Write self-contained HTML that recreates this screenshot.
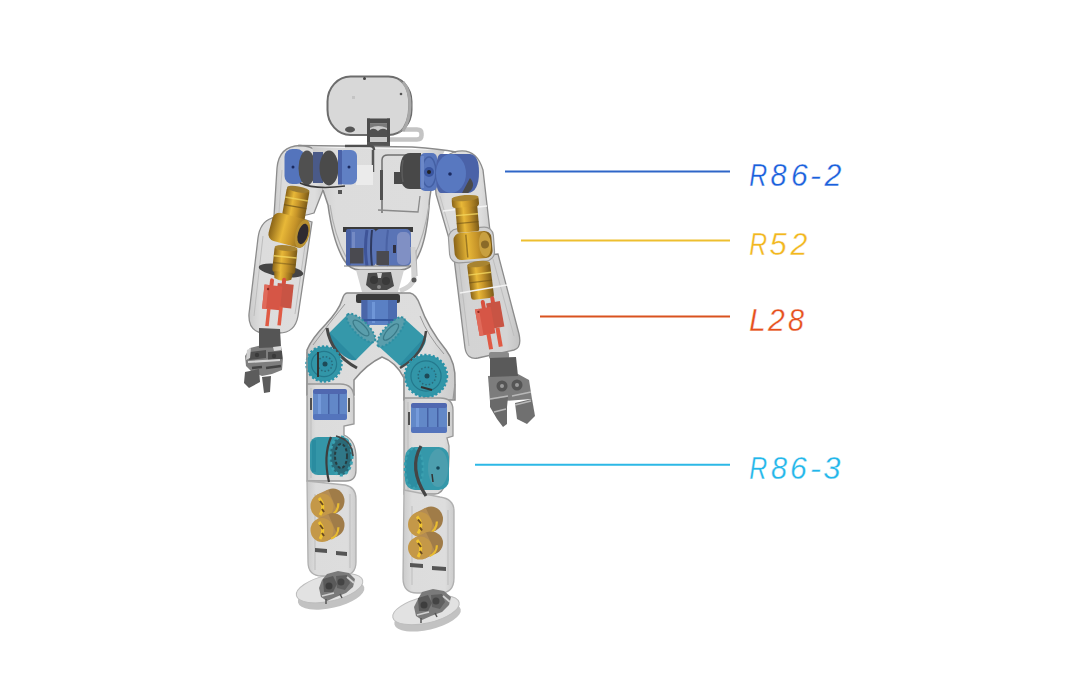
<!DOCTYPE html>
<html><head><meta charset="utf-8">
<style>
html,body{margin:0;padding:0;background:#fff;width:1080px;height:675px;overflow:hidden}
svg{display:block}
.lbl{font-family:"Liberation Sans",sans-serif;font-style:italic;font-size:31px}
</style></head><body>
<svg width="1080" height="675" viewBox="0 0 1080 675">
<defs>
<linearGradient id="gold" x1="0" y1="0" x2="1" y2="0">
<stop offset="0" stop-color="#8a6418"/><stop offset="0.35" stop-color="#e8b838"/><stop offset="0.6" stop-color="#c8962a"/><stop offset="1" stop-color="#7a5a18"/>
</linearGradient>
<linearGradient id="blue" x1="0" y1="0" x2="1" y2="0">
<stop offset="0" stop-color="#2a4c9a"/><stop offset="0.4" stop-color="#5080d0"/><stop offset="1" stop-color="#2c54a8"/>
</linearGradient>
<linearGradient id="teal" x1="0" y1="0" x2="1" y2="0">
<stop offset="0" stop-color="#1a7890"/><stop offset="0.45" stop-color="#3ab0c8"/><stop offset="1" stop-color="#1c7e98"/>
</linearGradient>
<linearGradient id="shell" x1="0" y1="0" x2="1" y2="0">
<stop offset="0" stop-color="#cbcbcb"/><stop offset="0.18" stop-color="#dcdcdc"/><stop offset="0.82" stop-color="#dddddd"/><stop offset="1" stop-color="#cccccc"/>
</linearGradient>
<linearGradient id="shell2" x1="0" y1="0" x2="1" y2="0">
<stop offset="0" stop-color="#c4c4c4"/><stop offset="0.2" stop-color="#d3d3d3"/><stop offset="0.8" stop-color="#d4d4d4"/><stop offset="1" stop-color="#c3c3c3"/>
</linearGradient>
</defs>
<g id="robot">
<!-- ===== ARMS SHELLS ===== -->
<g stroke="#8c8c8c" stroke-width="1.3" fill="url(#shell)">
  <!-- left forearm -->
  <path d="M272,218 Q290,214 312,222 L298,316 Q295,333 279,333 L264,333 Q248,332 249,314 L258,238 Q260,222 272,218 Z"/>
  <!-- left upper arm -->
  <path d="M277,168 Q279,146 300,145.5 Q321,146 324,166 L323,190 L314,213 Q300,218 274,216 Z"/>
  <!-- right forearm -->
  <path d="M454,258 L498,254 L519,334 Q522,348 514,350 L478,358 Q467,360 465,348 Z" fill="url(#shell2)"/>
  <!-- right upper arm -->
  <path d="M436,194 Q432,160 454,152 Q476,146 483,170 L491,240 L450,242 Z"/>
</g>
<!-- arm seams -->
<path d="M263,236 L254,316 M307,232 L295,314" fill="none" stroke="#bdbdbd" stroke-width="1"/>
<path d="M459,264 L469,346 M493,259 L514,336" fill="none" stroke="#bdbdbd" stroke-width="1"/>
<path d="M282,170 L279,212 M440,196 L452,238" fill="none" stroke="#c2c2c2" stroke-width="1"/>
<path d="M443,211 L487,206" stroke="#f4f4f4" stroke-width="1.6"/>
<rect x="449" y="228" width="45" height="34" rx="9" fill="#d2d2d2" stroke="#9a9a9a" stroke-width="1.2" transform="rotate(-4 471 245)"/>

<!-- left arm internals -->
<g transform="rotate(10 295 205)">
<rect x="284" y="188" width="23" height="34" rx="3" fill="url(#gold)"/>
<ellipse cx="295.5" cy="189" rx="11.5" ry="3" fill="#9a7a30"/>
<rect x="284" y="198" width="23" height="1.6" fill="#f4d860" opacity="0.7"/>
<rect x="284" y="206" width="23" height="1.2" fill="#6a5018" opacity="0.7"/>
</g>
<g transform="rotate(15 290 230)">
<rect x="270" y="216" width="38" height="29" rx="7" fill="url(#gold)"/>
<ellipse cx="303" cy="230.5" rx="7" ry="14.5" fill="#b89030"/>
<ellipse cx="303.5" cy="230.5" rx="5" ry="10.5" fill="#2e2a30"/>
</g>
<ellipse cx="281" cy="270.5" rx="22.5" ry="6" fill="#454545" transform="rotate(9 281 270.5)"/>
<g transform="rotate(6 284 263)">
<rect x="273" y="247" width="23" height="26" rx="3" fill="url(#gold)"/>
<ellipse cx="284.5" cy="248" rx="11.5" ry="3" fill="#a88430"/>
<rect x="273" y="256" width="23" height="1.5" fill="#f4d860" opacity="0.8"/>
<rect x="273" y="263" width="23" height="1.3" fill="#6a5018" opacity="0.5"/>
<path d="M275,272 L294,272 L293,279 Q284,283 276,279 Z" fill="url(#gold)"/>
</g>
<g transform="rotate(6 277 300)">
<rect x="268" y="279" width="4" height="9" rx="2" fill="#d8503e"/>
<rect x="280" y="277" width="4" height="9" rx="2" fill="#d8503e"/>
<rect x="276" y="283" width="16" height="24" fill="#c85444"/>
<rect x="263" y="286" width="18" height="24" fill="#d65646"/>
<rect x="263" y="286" width="4" height="24" fill="#e06a5a"/>
<rect x="268" y="309" width="3.5" height="18" fill="#e05a44"/>
<rect x="280" y="306" width="3.5" height="19" fill="#e05a44"/>
<circle cx="267" cy="290" r="1.2" fill="#8a2a20"/>
</g>
<!-- left hand -->
<path d="M250,348 L262,345 L281,346 L283,358 L282,370 L272,374 L262,376 L252,372 L246,366 L245,356 Z" fill="#7e7e7e"/>
<path d="M259,328 L280,329 L281,347 L259,348 Z" fill="#555555"/>
<path d="M250,352 L266,350 L266,358 L249,360 Z" fill="#505050"/>
<path d="M268,352 L282,351 L282,359 L268,360 Z" fill="#4c4c4c"/>
<path d="M248,362 L280,360" stroke="#d6d6d6" stroke-width="2"/>
<path d="M252,368 L262,367 M266,368 L281,366" stroke="#444" stroke-width="2.5"/>
<path d="M247,350 L251,348 L250,358 L246,360 Z" fill="#cfcfcf"/>
<path d="M273,347 L281,346 L281,350 L274,351 Z" fill="#d8d8d8"/>
<circle cx="257" cy="355" r="2.2" fill="#3a3a3a"/>
<circle cx="274" cy="356" r="2.2" fill="#3a3a3a"/>
<path d="M245,372 L259,369 L260,382 L249,388 L244,383 Z" fill="#5c5c5c"/>
<path d="M262,377 L271,376 L270,392 L264,393 Z" fill="#5c5c5c"/>
<!-- right arm internals -->
<g transform="rotate(-5 467 215)">
<rect x="456" y="204" width="22" height="28" rx="2" fill="url(#gold)"/>
<rect x="453" y="197" width="27" height="10" rx="3" fill="url(#gold)"/>
<ellipse cx="466.5" cy="198" rx="13.5" ry="3" fill="#a88430"/>
<rect x="456" y="214" width="22" height="1.4" fill="#f4d860" opacity="0.8"/>
<rect x="456" y="222" width="22" height="1.2" fill="#6a5018" opacity="0.6"/>
</g>
<g transform="rotate(-5 473 245)">
<rect x="454" y="232" width="38" height="27" rx="7" fill="url(#gold)"/>
<ellipse cx="485" cy="245.5" rx="6" ry="12.5" fill="#c8a040"/>
<circle cx="485" cy="245.5" r="4" fill="#8a6a28"/>
<rect x="466" y="234" width="1.5" height="23" fill="#6a5018" opacity="0.6"/>
</g>
<g transform="rotate(-7 480 280)">
<rect x="469" y="263" width="23" height="36" rx="3" fill="url(#gold)"/>
<ellipse cx="480.5" cy="264" rx="11.5" ry="3" fill="#a88430"/>
<rect x="469" y="273" width="23" height="1.4" fill="#f4d860" opacity="0.8"/>
<rect x="469" y="281" width="23" height="1.2" fill="#6a5018" opacity="0.6"/>
</g>
<path d="M460,293 L507,285" stroke="#f2f2f2" stroke-width="1.5"/>
<g transform="rotate(-10 490 320)">
<rect x="484" y="299" width="4" height="10" rx="2" fill="#d8503e"/>
<rect x="494" y="297" width="4" height="10" rx="2" fill="#d8503e"/>
<rect x="489" y="303" width="14" height="26" fill="#c85444"/>
<rect x="477" y="307" width="16" height="27" fill="#d65646"/>
<rect x="477" y="307" width="4" height="27" fill="#e06a5a"/>
<rect x="484" y="333" width="4" height="16" fill="#e05a44"/>
<rect x="494" y="329" width="4" height="19" fill="#e05a44"/>
<circle cx="480" cy="310" r="1.2" fill="#8a2a20"/>
</g>
<!-- right hand -->
<rect x="489" y="352" width="20" height="7" rx="2" fill="#8a8a8a"/>
<path d="M488,376 L518,374 L529,380 L532,399 L490,402 Z" fill="#7c7c7c"/>
<path d="M490,358 L516,357 L518,376 L490,377 Z" fill="#5a5a5a"/>
<circle cx="502" cy="386" r="5.5" fill="#555"/>
<circle cx="517" cy="385" r="5.5" fill="#555"/>
<circle cx="502" cy="386" r="2" fill="#9a9a9a"/>
<circle cx="517" cy="385" r="2" fill="#9a9a9a"/>
<path d="M490,400 L508,397 L507,407 L507,424 L503,427 L497,419 L490,407 Z" fill="#6a6a6a"/>
<path d="M515,403 L532,399 L535,416 L527,424 L517,419 Z" fill="#707070"/>
<path d="M490,399 L508,396 M512,396 L531,392 M494,412 L506,409 M515,405 L531,401" stroke="#b8b8b8" stroke-width="1.5"/>
<!-- ===== HEAD ===== -->
<path d="M390,129.5 L417,129.5 Q421.5,129.5 421.5,133.5 L421.5,135.5 Q421.5,139.5 417,139.5 L390,139.5" fill="none" stroke="#c4c4c4" stroke-width="4.5"/>
<rect x="327.5" y="76.5" width="84" height="58.5" rx="23" ry="25" fill="#d8d8d8" stroke="#6c6c6c" stroke-width="2"/>
<path d="M399,80 Q409,86 409,105 Q409,124 399,133" fill="none" stroke="#8a8a8a" stroke-width="1.4"/>
<path d="M403,82 Q410,90 410,105 Q410,120 403,131" fill="none" stroke="#a8a8a8" stroke-width="3"/>
<circle cx="364.5" cy="78.5" r="1.5" fill="#444"/>
<circle cx="401" cy="94" r="1.3" fill="#555"/>
<rect x="352" y="96" width="3" height="3" fill="#c4c4c4"/>
<rect x="367" y="118.5" width="23" height="27.5" fill="#c8c8c8"/>
<rect x="367" y="118.5" width="23" height="5" fill="#4c4c4c"/>
<rect x="367" y="118.5" width="3" height="27.5" fill="#4c4c4c"/>
<rect x="387" y="118.5" width="3" height="27.5" fill="#4c4c4c"/>
<path d="M370,123.5 L387,123.5 L387,128 Q378,124 370,128 Z" fill="#7a7a7a"/>
<path d="M370,130 Q374,127 378,131 Q382,127 387,130 L387,137 L370,137 Z" fill="#505050"/>
<rect x="367" y="142" width="23" height="4" fill="#555"/>
<ellipse cx="350" cy="129.5" rx="5" ry="3" fill="#555"/>
<!-- ===== TORSO ===== -->
<path d="M312,147 L445,150 L433,176 L429.5,200 Q427,242 416,260 Q410,270 400,270 L360,270 Q350,270 344,260 Q333,242 328,205 L323,190 Z" fill="url(#shell)"/>
<path d="M433,176 L429.5,200 Q427,242 416,260 Q410,270 400,270 L360,270 Q350,270 344,260 Q333,242 328,205 L323,190" fill="none" stroke="#8a8a8a" stroke-width="1.5"/>
<path d="M298,145.6 Q320,146 340,146 L412,147 Q440,149 456,152" fill="none" stroke="#8a8a8a" stroke-width="1.5"/>
<path d="M330,205 Q336,245 352,266" fill="none" stroke="#b0b0b0" stroke-width="1.2"/>
<path d="M429,205 Q423,245 408,266" fill="none" stroke="#b0b0b0" stroke-width="1.2"/>
<!-- chest frame -->
<path d="M373,150 L373,172" stroke="#555" stroke-width="2.5"/>
<path d="M382,213 L382,160 Q382,155 388,155 L420,155" fill="none" stroke="#707070" stroke-width="1.5"/>
<path d="M378,210 L418,212 L420,196" fill="none" stroke="#8a8a8a" stroke-width="1.3"/>
<path d="M345,146 L370,146 Q374,146 374,150" fill="none" stroke="#505050" stroke-width="2.5"/>
<rect x="356" y="165" width="17" height="20" fill="#ebebeb"/>
<rect x="338" y="190" width="4" height="4" fill="#555"/>
<rect x="380" y="170" width="3" height="30" fill="#505050"/>
<!-- shoulder motors left -->
<rect x="284.5" y="149" width="20" height="35" rx="8" fill="#5474bc"/>
<circle cx="293" cy="167" r="1.5" fill="#1a2a60"/>
<ellipse cx="307" cy="168" rx="8.5" ry="17.5" fill="#505050"/>
<rect x="313" y="152" width="10" height="31" fill="#4a5a88"/>
<ellipse cx="329" cy="168" rx="9.5" ry="17.5" fill="#4a4a4a"/>
<rect x="338" y="150" width="19" height="34.5" rx="6" fill="#6080c4"/>
<rect x="338" y="150" width="4" height="34.5" fill="#4a62a8"/>
<circle cx="349" cy="167" r="1.5" fill="#1a2a60"/>
<path d="M300,183 Q315,190 345,186" fill="none" stroke="#3a3a3a" stroke-width="1.5"/>
<!-- shoulder motors right -->
<rect x="394" y="172" width="8" height="12" fill="#4a4a4a"/>
<path d="M410,153 L421,153 L421,189 L410,189 Q400,189 400,171 Q400,153 410,153 Z" fill="#484848"/>
<path d="M403,160 Q401,171 403,182" fill="none" stroke="#5c5c5c" stroke-width="1.5"/>
<rect x="420" y="153" width="17" height="38" rx="5" fill="#5876bc"/>
<ellipse cx="429" cy="172" rx="7" ry="15" fill="none" stroke="#4460a4" stroke-width="1.5"/>
<rect x="421" y="156" width="3" height="32" fill="#6c88c8"/>
<circle cx="429" cy="172" r="5" fill="#3a56a0"/>
<circle cx="429" cy="172" r="2" fill="#222"/>
<path d="M441,154 L470,154 Q479,155 479,172 Q479,192 468,193 L441,193 Q436,193 436,174 Q436,154 441,154 Z" fill="#4a62a8"/>
<ellipse cx="451" cy="173.5" rx="15" ry="19.5" fill="#5878c0"/>
<circle cx="450" cy="174" r="1.8" fill="#1a2a60"/>
<path d="M470,178 Q477,186 468,193 L462,193 Z" fill="#4a4a4a"/>
<!-- waist motors -->
<rect x="343" y="227" width="70" height="5" fill="#3a3a3a"/>
<rect x="346" y="229" width="30" height="37" rx="4" fill="#5a74b6"/>
<rect x="346" y="229" width="5" height="37" rx="2" fill="#4a62a4"/>
<rect x="352" y="232" width="3" height="16" fill="#7a90c8" opacity="0.8"/>
<path d="M367,230 Q364,248 367,266" fill="none" stroke="#3e5498" stroke-width="3"/>
<path d="M372,230 Q370,248 372,266" fill="none" stroke="#2e3a60" stroke-width="2"/>
<rect x="375" y="229" width="36" height="37" rx="5" fill="#5a74b6"/>
<path d="M388,230 Q385,248 388,266" fill="none" stroke="#4a62a4" stroke-width="2"/>
<rect x="397" y="232" width="13" height="33" rx="5" fill="#8090c4"/>
<rect x="393" y="245" width="3" height="8" fill="#303040"/>
<rect x="350" y="248" width="13.5" height="15.5" fill="#4a4a50"/>
<rect x="376.5" y="251" width="12.5" height="14" fill="#4a4a50"/>
<path d="M344,266 L411,266" stroke="#7a7a7a" stroke-width="1"/>
<!-- waist joint -->
<path d="M356,270 L404,270 L398,292 L362,292 Z" fill="#d4d4d4"/>
<path d="M368,273 L391,272 L394,286 L387,290 L372,290 L366,285 Z" fill="#4a4a4a"/>
<circle cx="374" cy="280" r="4" fill="#383838"/>
<circle cx="386" cy="281" r="4" fill="#3a3a3a"/>
<path d="M377,273 L382,273 L381,278 L378,278 Z" fill="#d0d0d0"/>
<circle cx="379" cy="287" r="2" fill="#888"/>
<path d="M413,247 L414,278 Q413,286 400,291" fill="none" stroke="#d2d2d2" stroke-width="5"/>
<path d="M416,250 L417,276" stroke="#b0b0b0" stroke-width="1"/>
<circle cx="414" cy="280" r="2.5" fill="#5a5a5a"/>

<!-- ===== PELVIS ===== -->
<path d="M347,293 L410,293 Q416,294 420,305 Q428,328 446,350 Q456,363 455,382 L455,400 L404,400 L404,378 Q396,362 382,357 Q367,364 354,380 L354,395 L307,395 L307,350 Q312,338 326,324 Q339,310 342,300 Q344,293 347,293 Z" fill="url(#shell)" stroke="#8a8a8a" stroke-width="1.5"/>
<path d="M313,345 Q330,322 345,304 M444,354 Q428,336 420,316" fill="none" stroke="#9a9a9a" stroke-width="1"/>
<!-- pelvis motors -->
<rect x="356" y="294" width="44" height="9" rx="2" fill="#3a3a3a"/>
<rect x="361.5" y="300" width="35.5" height="25" fill="#5a80c4"/>
<rect x="361.5" y="300" width="6" height="25" fill="#4a66a8"/>
<rect x="372" y="302" width="3" height="21" fill="#78a0e0" opacity="0.7"/>
<rect x="388" y="300" width="9" height="25" fill="#4c6cb0"/>
<rect x="361.5" y="319" width="35.5" height="2" fill="#34569e"/>
<!-- upper-left teal -->
<ellipse cx="343" cy="346" rx="19" ry="7" transform="rotate(-135.0 343 346)" fill="#2a8aa0"/>
<path d="M347.6,314.6 L329.6,332.6 L356.4,359.4 L374.4,341.4 Z" fill="#3598aa"/>
<ellipse cx="361" cy="328" rx="19" ry="7" transform="rotate(-135.0 361 328)" fill="#5a9eac" stroke="#2e8ea2" stroke-width="2" stroke-dasharray="2 2"/>
<ellipse cx="361" cy="328" rx="10.5" ry="3.9" transform="rotate(-135.0 361 328)" fill="none" stroke="#3a7a88" stroke-width="1.2"/>
<path d="M327,328 Q331,354 357,368" fill="none" stroke="#474747" stroke-width="3"/>
<!-- upper-right teal -->
<ellipse cx="412" cy="351" rx="19" ry="7" transform="rotate(132.1 412 351)" fill="#2a8aa0"/>
<path d="M378.3,346.1 L399.3,365.1 L424.7,336.9 L403.7,317.9 Z" fill="#3598aa"/>
<ellipse cx="391" cy="332" rx="19" ry="7" transform="rotate(132.1 391 332)" fill="#5a9eac" stroke="#2e8ea2" stroke-width="2" stroke-dasharray="2 2"/>
<ellipse cx="391" cy="332" rx="10.5" ry="3.9" transform="rotate(132.1 391 332)" fill="none" stroke="#3a7a88" stroke-width="1.2"/>
<path d="M426,331 Q424,354 400,368" fill="none" stroke="#474747" stroke-width="2.5"/>
<!-- lower disks -->
<circle cx="324" cy="364" r="17.5" fill="#3296a8" stroke="#2a92a8" stroke-width="2.5" stroke-dasharray="2.2 2"/>
<circle cx="324" cy="364" r="12.6" fill="none" stroke="#24788c" stroke-width="1.2"/>
<circle cx="325" cy="364" r="7.3" fill="#2e92a8" stroke="#2a6a7a" stroke-width="1.5" stroke-dasharray="1.5 2"/>
<circle cx="325" cy="364" r="2.5" fill="#1e4a58"/>
<path d="M318,352 L318,377" stroke="#333" stroke-width="2"/>
<circle cx="426" cy="376" r="21" fill="#3296a8" stroke="#2a92a8" stroke-width="2.5" stroke-dasharray="2.2 2"/>
<circle cx="426" cy="376" r="15.1" fill="none" stroke="#24788c" stroke-width="1.2"/>
<circle cx="427" cy="376" r="8.8" fill="#2e92a8" stroke="#2a6a7a" stroke-width="1.5" stroke-dasharray="1.5 2"/>
<circle cx="427" cy="376" r="2.5" fill="#1e4a58"/>
<path d="M421,387 L432,390" stroke="#333" stroke-width="2"/>
<!-- feet -->
<g transform="rotate(-13 330 590)">
<ellipse cx="330" cy="595" rx="34" ry="13" fill="#c2c2c2"/>
<ellipse cx="330" cy="588" rx="34" ry="13" fill="#e2e2e2" stroke="#bdbdbd" stroke-width="1"/>
</g>
<g transform="rotate(-13 426 610)">
<ellipse cx="426" cy="617" rx="34" ry="13" fill="#c2c2c2"/>
<ellipse cx="426" cy="610" rx="34" ry="13" fill="#e2e2e2" stroke="#bdbdbd" stroke-width="1"/>
</g>
<!-- ===== LEGS ===== -->
<!-- left leg -->
<path d="M307,384 L340,384 Q354,384 354,398 L354,424 L344,426 L344,435 Q356,440 356,458 L356,470 Q356,481 346,481 L307,481 Z" fill="url(#shell)" stroke="#989898" stroke-width="1.3"/>
<path d="M307,352 L307,395" stroke="#989898" stroke-width="1.3"/>
<path d="M307,481 L345,485 Q356,487 356,499 L356,562 Q356,576 341,576 L322,576 Q308,576 308,562 Z" fill="url(#shell)" stroke="#b0b0b0" stroke-width="1.3"/>
<path d="M315,494 L315,570 M350,494 L350,568" stroke="#bdbdbd" stroke-width="1"/>
<!-- right leg -->
<path d="M404,398 L440,398 Q453,398 453,410 L453,436 L447,438 L449,446 Q450,494 435,494 L404,494 Z" fill="url(#shell)" stroke="#989898" stroke-width="1.3"/>
<path d="M404,374 L404,400 M455,384 L453,400" stroke="#989898" stroke-width="1.3"/>
<path d="M404,490 L440,497 Q454,499 454,511 L454,578 Q454,593 440,593 L417,593 Q403,593 403,578 Z" fill="url(#shell)" stroke="#b0b0b0" stroke-width="1.3"/>
<path d="M412,506 L412,585 M448,510 L448,585" stroke="#bdbdbd" stroke-width="1"/>
<path d="M311,388 L311,478 M408,402 L408,490" stroke="#bdbdbd" stroke-width="1"/>
<!-- thigh motors -->
<rect x="313" y="389" width="34" height="31" rx="4" fill="#6288c8"/>
<rect x="313" y="389" width="34" height="5" rx="2" fill="#5068b0"/>
<rect x="318" y="394" width="3" height="24" fill="#7aa0e0" opacity="0.8"/>
<rect x="328" y="394" width="1.5" height="25" fill="#4460a4"/>
<rect x="338" y="394" width="1.5" height="25" fill="#4460a4"/>
<rect x="313" y="414" width="34" height="6" rx="2" fill="#5474bc"/>
<path d="M311,398 L311,410 M349,398 L349,412" stroke="#505050" stroke-width="2"/>
<rect x="411" y="403" width="36" height="30" rx="4" fill="#6288c8"/>
<rect x="411" y="403" width="36" height="5" rx="2" fill="#5068b0"/>
<rect x="416" y="408" width="3" height="23" fill="#7aa0e0" opacity="0.8"/>
<rect x="427" y="408" width="1.5" height="24" fill="#4460a4"/>
<rect x="437" y="408" width="1.5" height="24" fill="#4460a4"/>
<rect x="411" y="427" width="36" height="6" rx="2" fill="#5474bc"/>
<path d="M409,412 L409,425 M449,412 L449,426" stroke="#505050" stroke-width="2"/>
<!-- knee motors -->
<rect x="310" y="437" width="40" height="38" rx="8" fill="#3496a8"/>
<rect x="312" y="440" width="4" height="32" fill="#2a8ca0"/>
<ellipse cx="341" cy="456" rx="11" ry="19" fill="#2a6a78" stroke="#3aa0b0" stroke-width="3" stroke-dasharray="3 2.5"/>
<ellipse cx="341" cy="456" rx="6" ry="12" fill="#307888" stroke="#283c40" stroke-width="2" stroke-dasharray="3 2"/>
<path d="M331,437 Q323,456 329,482" fill="none" stroke="#3e3e3e" stroke-width="2.2"/>
<path d="M336,436 Q352,440 353,456" fill="none" stroke="#444" stroke-width="1.5"/>
<rect x="405" y="447" width="44" height="43" rx="10" fill="#3598aa"/>
<ellipse cx="414" cy="468" rx="9" ry="20" fill="#2c8ea2" stroke="#3aa0b0" stroke-width="2.5" stroke-dasharray="3 2.5"/>
<path d="M421,446 Q408,468 426,496" fill="none" stroke="#454545" stroke-width="3.2"/>
<ellipse cx="438" cy="468" rx="10" ry="19" fill="#4c9eae"/>
<circle cx="438" cy="468" r="1.8" fill="#16485a"/>
<path d="M432,474 L433,482" stroke="#333" stroke-width="1.5"/>
<!-- shin gold barrels -->
<ellipse cx="333" cy="501" rx="11.5" ry="12.5" fill="#a07c48"/>
<path d="M326.8,517.4 L337.8,512.4 L328.2,489.6 L317.2,494.6 Z" fill="#b48c52"/>
<ellipse cx="328.1" cy="503.2" rx="10.3" ry="12.5" fill="none" stroke="#e8bc30" stroke-width="2.2" stroke-dasharray="15.0 62.5" transform="rotate(0)"/>
<ellipse cx="322" cy="506" rx="11.5" ry="12.5" fill="#c49848"/>
<path d="M319,498 Q326,506 320,515" fill="none" stroke="#f0c430" stroke-width="3"/>
<path d="M320,501 L323,505 M322,509 L324,512" stroke="#6a4a20" stroke-width="2"/>
<ellipse cx="333" cy="525" rx="11.5" ry="12" fill="#a07c48"/>
<path d="M326.8,540.9 L337.8,535.9 L328.2,514.1 L317.2,519.1 Z" fill="#b48c52"/>
<ellipse cx="328.1" cy="527.2" rx="10.3" ry="12.0" fill="none" stroke="#e8bc30" stroke-width="2.2" stroke-dasharray="14.4 60.0" transform="rotate(0)"/>
<ellipse cx="322" cy="530" rx="11.5" ry="12" fill="#c49848"/>
<path d="M319,522 Q326,530 320,539" fill="none" stroke="#f0c430" stroke-width="3"/>
<path d="M320,525 L323,529 M322,533 L324,536" stroke="#6a4a20" stroke-width="2"/>
<ellipse cx="431" cy="519" rx="12" ry="12.5" fill="#a07c48"/>
<path d="M425.4,535.7 L436.4,530.2 L425.6,507.8 L414.6,513.3 Z" fill="#b48c52"/>
<ellipse cx="426.1" cy="521.5" rx="10.8" ry="12.5" fill="none" stroke="#e8bc30" stroke-width="2.2" stroke-dasharray="15.0 62.5" transform="rotate(0)"/>
<ellipse cx="420" cy="524.5" rx="12" ry="12.5" fill="#c49848"/>
<path d="M417,516.5 Q424,524.5 418,533.5" fill="none" stroke="#f0c430" stroke-width="3"/>
<path d="M418,519.5 L421,523.5 M420,527.5 L422,530.5" stroke="#6a4a20" stroke-width="2"/>
<ellipse cx="431" cy="543" rx="12" ry="11.5" fill="#a07c48"/>
<path d="M425.0,558.5 L436.0,553.5 L426.0,532.5 L415.0,537.5 Z" fill="#b48c52"/>
<ellipse cx="426.1" cy="545.2" rx="10.8" ry="11.5" fill="none" stroke="#e8bc30" stroke-width="2.2" stroke-dasharray="13.8 57.5" transform="rotate(0)"/>
<ellipse cx="420" cy="548" rx="12" ry="11.5" fill="#c49848"/>
<path d="M417,540 Q424,548 418,557" fill="none" stroke="#f0c430" stroke-width="3"/>
<path d="M418,543 L421,547 M420,551 L422,554" stroke="#6a4a20" stroke-width="2"/>
<path d="M315,548 L327,549 L327,553 L315,552 Z M336,551 L347,552 L347,556 L336,555 Z" fill="#555"/>
<path d="M410,563 L423,564 L423,568 L410,567 Z M432,566 L446,567 L446,571 L432,570 Z" fill="#555"/>
<!-- foot mechanisms -->
<g>
<path d="M327,574 L338,571 L349,573 L355,579 L353,587 L346,593 L336,597 L327,601 L321,597 L319,588 L322,580 Z" fill="#7a7a7a"/>
<path d="M323,579 L333,576 L337,584 L333,592 L324,592 Z" fill="#5a5a5a"/>
<path d="M336,576 L347,575 L350,583 L345,590 L337,588 Z" fill="#606060"/>
<circle cx="329" cy="586" r="3.5" fill="#3e3e3e"/>
<circle cx="341" cy="582" r="3.5" fill="#444"/>
<path d="M347,577 L354,583 M322,596 L334,593" stroke="#d0d0d0" stroke-width="1.8"/>
<path d="M326,599 L326,604 M340,594 L342,598" stroke="#555" stroke-width="1.5"/>
</g>
<g>
<path d="M422,592 L433,589 L444,591 L451,597 L449,605 L442,612 L431,616 L422,620 L416,616 L414,607 L418,599 Z" fill="#7a7a7a"/>
<path d="M418,598 L428,595 L432,603 L428,611 L419,611 Z" fill="#5a5a5a"/>
<path d="M431,595 L442,594 L445,602 L440,609 L432,607 Z" fill="#606060"/>
<circle cx="424" cy="605" r="3.5" fill="#3e3e3e"/>
<circle cx="436" cy="601" r="3.5" fill="#444"/>
<path d="M443,596 L450,602 M417,615 L429,612" stroke="#d0d0d0" stroke-width="1.8"/>
<path d="M421,618 L421,623 M435,613 L437,617" stroke="#555" stroke-width="1.5"/>
</g>

</g>
<line x1="505" y1="171.5" x2="730" y2="171.5" stroke="#2f66c8" stroke-width="2"/>
<line x1="521" y1="240.5" x2="730" y2="240.5" stroke="#eebf30" stroke-width="2"/>
<line x1="540" y1="316.5" x2="730" y2="316.5" stroke="#d9521f" stroke-width="2"/>
<line x1="475" y1="464.8" x2="730" y2="464.8" stroke="#2cb8e6" stroke-width="2"/>
<g class="lbl" fill="#1a60dc" stroke="#ffffff" stroke-width="0.35">
<text transform="translate(749.20,186) scale(0.800,1)">R</text>
<text transform="translate(770.57,186) scale(0.930,1)">8</text>
<text transform="translate(791.06,186) scale(0.970,1)">6</text>
<text transform="translate(809.80,186) scale(1.100,1)">-</text>
<text transform="translate(824.40,186) scale(0.980,1)">2</text>
</g>
<g class="lbl" fill="#f2b71e" stroke="#ffffff" stroke-width="0.35">
<text transform="translate(749.20,255) scale(0.800,1)">R</text>
<text transform="translate(769.60,255) scale(1.000,1)">5</text>
<text transform="translate(790.40,255) scale(0.980,1)">2</text>
</g>
<g class="lbl" fill="#e6501c" stroke="#ffffff" stroke-width="0.35">
<text transform="translate(749.03,331) scale(0.970,1)">L</text>
<text transform="translate(768.00,331) scale(0.980,1)">2</text>
<text transform="translate(788.07,331) scale(0.930,1)">8</text>
</g>
<g class="lbl" fill="#22b6ea" stroke="#ffffff" stroke-width="0.35">
<text transform="translate(749.20,478.5) scale(0.800,1)">R</text>
<text transform="translate(771.07,478.5) scale(0.930,1)">8</text>
<text transform="translate(790.06,478.5) scale(0.970,1)">6</text>
<text transform="translate(809.80,478.5) scale(1.100,1)">-</text>
<text transform="translate(823.20,478.5) scale(1.000,1)">3</text>
</g>
</svg>
</body></html>
